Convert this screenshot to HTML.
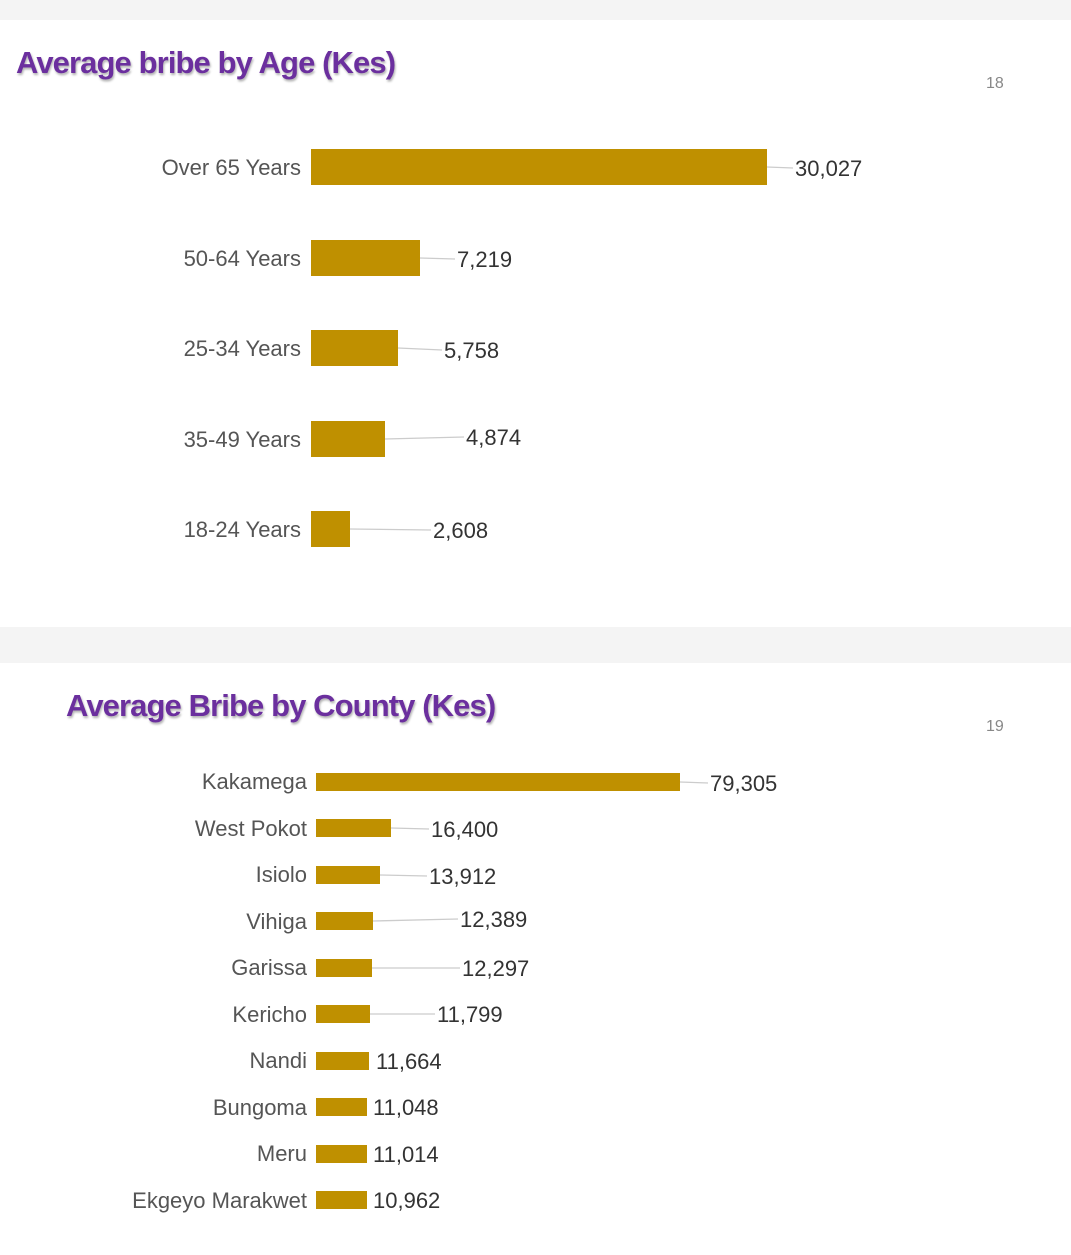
<!DOCTYPE html>
<html><head><meta charset="utf-8"><style>
body{margin:0;width:1071px;height:1250px;overflow:hidden;background:#fff}
svg text{font-family:"Liberation Sans",sans-serif}
.t{font-size:31px;font-weight:bold;fill:#6b2f9e;letter-spacing:-0.9px;filter:drop-shadow(1px 2px 1px rgba(0,0,0,0.3))}
.l{font-size:22px;fill:#555;text-anchor:end;letter-spacing:0px}
.v{font-size:22px;fill:#333;letter-spacing:0px}
.p{font-size:16px;fill:#888}
line{stroke:#ccc;stroke-width:1.3}
rect.b{fill:#bf9000}
</style></head><body>
<svg width="1071" height="1250" xmlns="http://www.w3.org/2000/svg">
<rect x="0" y="0" width="1071" height="20" fill="#f4f4f4"/>
<rect x="0" y="627" width="1071" height="36" fill="#f4f4f4"/>
<text class="t" x="16" y="73">Average bribe by Age (Kes)</text>
<text class="p" x="986" y="88">18</text>
<g>
<text class="l" x="301" y="175">Over 65 Years</text><rect class="b" x="311" y="149" width="456" height="36"/><line x1="767" y1="167" x2="793" y2="168"/><text class="v" x="795" y="176">30,027</text>
<text class="l" x="301" y="266">50-64 Years</text><rect class="b" x="311" y="240" width="109" height="36"/><line x1="420" y1="258" x2="455" y2="259"/><text class="v" x="457" y="267">7,219</text>
<text class="l" x="301" y="356">25-34 Years</text><rect class="b" x="311" y="330" width="87" height="36"/><line x1="398" y1="348" x2="442" y2="350"/><text class="v" x="444" y="358">5,758</text>
<text class="l" x="301" y="447">35-49 Years</text><rect class="b" x="311" y="421" width="74" height="36"/><line x1="385" y1="439" x2="464" y2="437"/><text class="v" x="466" y="445">4,874</text>
<text class="l" x="301" y="537">18-24 Years</text><rect class="b" x="311" y="511" width="39" height="36"/><line x1="350" y1="529" x2="431" y2="530"/><text class="v" x="433" y="538">2,608</text>
</g>
<text class="t" x="66" y="716">Average Bribe by County (Kes)</text>
<text class="p" x="986" y="731">19</text>
<g>
<text class="l" x="307" y="789">Kakamega</text><rect class="b" x="316" y="773" width="364" height="18"/><line x1="680" y1="782" x2="708" y2="783"/><text class="v" x="710" y="791">79,305</text>
<text class="l" x="307" y="836">West Pokot</text><rect class="b" x="316" y="819" width="75" height="18"/><line x1="391" y1="828" x2="429" y2="829"/><text class="v" x="431" y="837">16,400</text>
<text class="l" x="307" y="882">Isiolo</text><rect class="b" x="316" y="866" width="64" height="18"/><line x1="380" y1="875" x2="427" y2="876"/><text class="v" x="429" y="884">13,912</text>
<text class="l" x="307" y="929">Vihiga</text><rect class="b" x="316" y="912" width="57" height="18"/><line x1="373" y1="921" x2="458" y2="919"/><text class="v" x="460" y="927">12,389</text>
<text class="l" x="307" y="975">Garissa</text><rect class="b" x="316" y="959" width="56" height="18"/><line x1="372" y1="968" x2="460" y2="968"/><text class="v" x="462" y="976">12,297</text>
<text class="l" x="307" y="1022">Kericho</text><rect class="b" x="316" y="1005" width="54" height="18"/><line x1="370" y1="1014" x2="435" y2="1014"/><text class="v" x="437" y="1022">11,799</text>
<text class="l" x="307" y="1068">Nandi</text><rect class="b" x="316" y="1052" width="53" height="18"/><text class="v" x="376" y="1069">11,664</text>
<text class="l" x="307" y="1115">Bungoma</text><rect class="b" x="316" y="1098" width="51" height="18"/><text class="v" x="373" y="1115">11,048</text>
<text class="l" x="307" y="1161">Meru</text><rect class="b" x="316" y="1145" width="51" height="18"/><text class="v" x="373" y="1162">11,014</text>
<text class="l" x="307" y="1208">Ekgeyo Marakwet</text><rect class="b" x="316" y="1191" width="51" height="18"/><text class="v" x="373" y="1208">10,962</text>
</g>
</svg>
</body></html>
